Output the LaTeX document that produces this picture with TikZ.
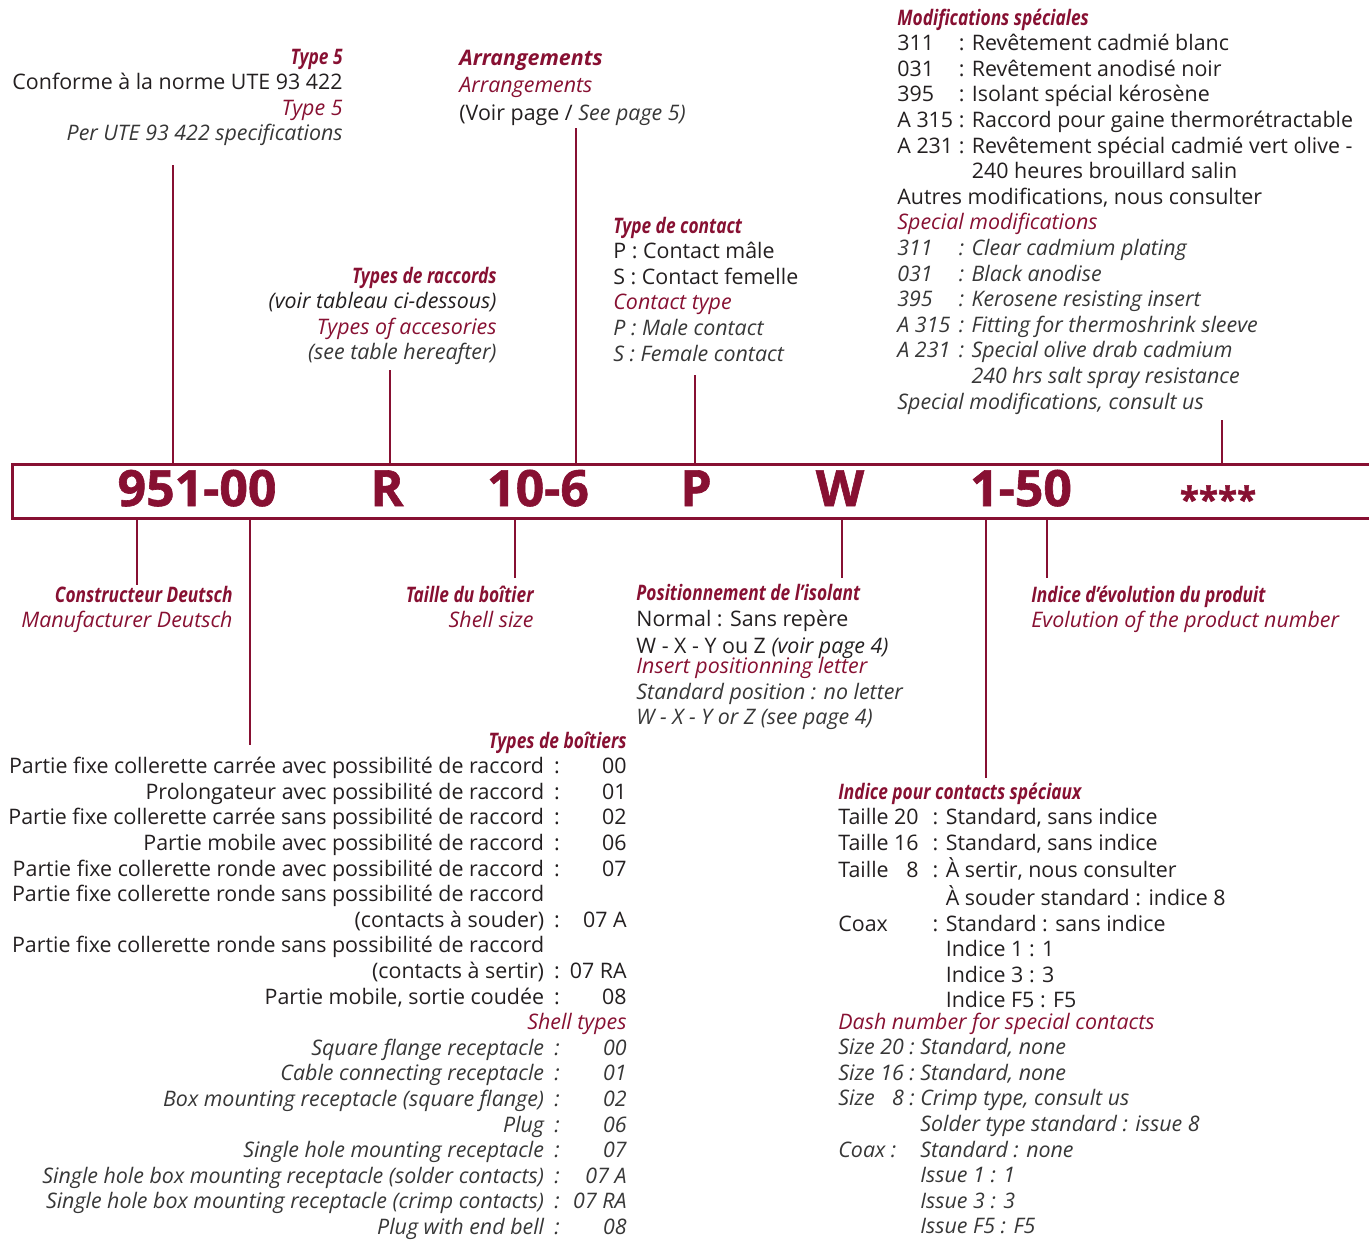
\documentclass[tikz,border=0pt]{standalone}
\usepackage{fontspec}
\setmainfont{Open Sans}
\newfontfamily\condfont{Open Sans}[FakeStretch=0.81]
\newfontfamily\codefont{Open Sans Bold}[FakeBold=1.2]
\usepackage{tikz}
\definecolor{deutschred}{RGB}{135,16,50}
\definecolor{engray}{RGB}{55,55,55}
\definecolor{txtblack}{RGB}{35,31,32}

\newcommand\hd{\condfont\bfseries\itshape\color{deutschred}}
\newcommand\hdwide{\bfseries\itshape\color{deutschred}}
\newcommand\enr{\itshape\color{deutschred}}
\newcommand\eng{\itshape\color{engray}}
\newcommand\shellrow[2]{\eng #1 & \eng : & \eng #2\\}

\tikzset{
    txt/.style={inner sep=0pt, text=txtblack, font=\fontsize{10.7}{12.8}\selectfont},
    code/.style={inner sep=0pt, anchor=base, text=deutschred, font=\fontsize{25}{28}\selectfont\codefont},
    link/.style={draw=deutschred, line width=1.2pt},
}

\begin{document}
\begin{tikzpicture}[x=0.5pt, y=-0.5pt]
            \useasboundingbox (0,0) rectangle (1369,1239);

            %code box
            \node[draw=deutschred, line width=1.4pt, inner sep=0pt, anchor=north west,
                  minimum width=700pt, minimum height=27pt] (box) at (11,463) {};
            \node[code] (cmfr) at (197,506) {951-00};
            \node[code] (cacc) at (387,506) {R};
            \node[code] (csize) at (538,506) {10-6};
            \node[code] (ccont) at (696,506) {P};
            \node[code] (cpos) at (840,506) {W};
            \node[code] (cdash) at (1021,506) {1-50};
            \node[code, font=\fontsize{17.5}{20}\selectfont\codefont] (cmod) at (1218,512) {****};

            %labels above
            \node[txt, anchor=base east] (typecinq) at (343,64) {\begin{tabular}[t]{@{}r@{}}
                \hd Type 5\\
                Conforme à la norme UTE 93 422\\
                \enr Type 5\\
                \eng Per UTE 93 422 specifications
            \end{tabular}};
            \node[txt, anchor=base west] (arrang) at (459,65) {\begin{tabular}[t]{@{}l@{}}
                \hdwide Arrangements\\[1pt]
                \enr Arrangements\\[1pt]
                (Voir page / {\eng See page 5)}
            \end{tabular}};
            \node[txt, anchor=base east] (raccords) at (497,283) {\begin{tabular}[t]{@{}r@{}}
                \hd Types de raccords\\
                \itshape (voir tableau ci-dessous)\\
                \enr Types of accesories\\
                \eng (see table hereafter)
            \end{tabular}};
            \node[txt, anchor=base west] (contact) at (613,233) {\begin{tabular}[t]{@{}l@{}}
                \hd Type de contact\\
                P : Contact mâle\\
                S : Contact femelle\\
                \enr Contact type\\
                \eng P : Male contact\\
                \eng S : Female contact
            \end{tabular}};
            \node[txt, anchor=base west] (mods) at (897,25) {\begin{tabular}[t]{@{}l@{\ }l@{}}
                \multicolumn{2}{@{}l@{}}{\hd Modifications spéciales}\\
                311 & : Revêtement cadmié blanc\\
                031 & : Revêtement anodisé noir\\
                395 & : Isolant spécial kérosène\\
                A 315 & : Raccord pour gaine thermorétractable\\
                A 231 & : Revêtement spécial cadmié vert olive -\\
                & \phantom{: }240 heures brouillard salin\\
                \multicolumn{2}{@{}l@{}}{Autres modifications, nous consulter}\\
                \multicolumn{2}{@{}l@{}}{\enr Special modifications}\\
                \eng 311 & \eng : Clear cadmium plating\\
                \eng 031 & \eng : Black anodise\\
                \eng 395 & \eng : Kerosene resisting insert\\
                \eng A 315 & \eng : Fitting for thermoshrink sleeve\\
                \eng A 231 & \eng : Special olive drab cadmium\\
                & \eng\phantom{: }240 hrs salt spray resistance\\
                \multicolumn{2}{@{}l@{}}{\eng Special modifications, consult us}
            \end{tabular}};

            %labels below
            \node[txt, anchor=base east] (constr) at (233,602) {\begin{tabular}[t]{@{}r@{}}
                \hd Constructeur Deutsch\\
                \enr Manufacturer Deutsch
            \end{tabular}};
            \node[txt, anchor=base east] (taille) at (534,602) {\begin{tabular}[t]{@{}r@{}}
                \hd Taille du boîtier\\
                \enr Shell size
            \end{tabular}};
            \node[txt, anchor=base west] (positfr) at (636,600) {\begin{tabular}[t]{@{}l@{}}
                \hd Positionnement de l’isolant\\[0.6pt]
                Normal : Sans repère\\[0.6pt]
                W - X - Y ou Z {\itshape (voir page 4)}
            \end{tabular}};
            \node[txt, anchor=base west] (positen) at (636,673) {\begin{tabular}[t]{@{}l@{}}
                \enr Insert positionning letter\\[0.3pt]
                \eng Standard position : no letter\\
                \eng W - X - Y or Z (see page 4)
            \end{tabular}};
            \node[txt, anchor=base west] (evol) at (1031,602) {\begin{tabular}[t]{@{}l@{}}
                \hd Indice d’évolution du produit\\
                \enr Evolution of the product number
            \end{tabular}};

            %shell types
            \node[txt, anchor=base east] (boitiers) at (627,748) {\begin{tabular}[t]{@{}r@{\hspace{5pt}}c@{\hspace{5pt}}r@{}}
                \multicolumn{3}{@{}r@{}}{\hd Types de boîtiers\hspace{-3pt}}\\
                Partie fixe collerette carrée avec possibilité de raccord & : & 00\\
                Prolongateur avec possibilité de raccord & : & 01\\
                Partie fixe collerette carrée sans possibilité de raccord & : & 02\\
                Partie mobile avec possibilité de raccord & : & 06\\
                Partie fixe collerette ronde avec possibilité de raccord & : & 07\\
                Partie fixe collerette ronde sans possibilité de raccord & & \\
                (contacts à souder) & : & 07 A\\
                Partie fixe collerette ronde sans possibilité de raccord & & \\
                (contacts à sertir) & : & 07 RA\\
                Partie mobile, sortie coudée & : & 08\\
                \multicolumn{3}{@{}r@{}}{\enr Shell types\hspace{-3pt}}\\
                \shellrow{Square flange receptacle}{00}
                \shellrow{Cable connecting receptacle}{01}
                \shellrow{Box mounting receptacle (square flange)}{02}
                \shellrow{Plug}{06}
                \shellrow{Single hole mounting receptacle}{07}
                \shellrow{Single hole box mounting receptacle (solder contacts)}{07 A}
                \shellrow{Single hole box mounting receptacle (crimp contacts)}{07 RA}
                \eng Plug with end bell & \eng : & \eng 08
            \end{tabular}};

            %special contacts
            \node[txt, anchor=base west] (indfr) at (838,799) {\begin{tabular}[t]{@{}l@{\hspace{7pt}}l@{}}
                \multicolumn{2}{@{}l@{}}{\hd Indice pour contacts spéciaux}\\
                Taille 20 & : Standard, sans indice\\
                Taille 16 & : Standard, sans indice\\
                Taille \phantom{2}8 & : À sertir, nous consulter\\
                & \phantom{: }À souder standard : indice 8\\
                Coax & : Standard : sans indice\\
                & \phantom{: }Indice 1 : 1\\
                & \phantom{: }Indice 3 : 3\\
                & \phantom{: }Indice F5 : F5
            \end{tabular}};
            \node[txt, anchor=base west] (inden) at (838,1029) {\begin{tabular}[t]{@{}l@{\ }l@{}}
                \multicolumn{2}{@{}l@{}}{\enr Dash number for special contacts}\\
                \eng Size 20 : & \eng Standard, none\\
                \eng Size 16 : & \eng Standard, none\\
                \eng Size \phantom{2}8 : & \eng Crimp type, consult us\\
                & \eng Solder type standard : issue 8\\
                \eng Coax : & \eng Standard : none\\
                & \eng Issue 1 : 1\\
                & \eng Issue 3 : 3\\
                & \eng Issue F5 : F5
            \end{tabular}};

            %connectors
            \coordinate (typeend) at (173,165);
            \coordinate (raccend) at (390,370);
            \coordinate (arrend) at (576,128);
            \coordinate (contend) at (695,375);
            \coordinate (modend) at (1222,420);
            \coordinate (mfrend) at (137,585);
            \coordinate (boitend) at (250,745);
            \coordinate (sizeend) at (515,578);
            \coordinate (posend) at (842,578);
            \coordinate (indend) at (986,778);
            \coordinate (evolend) at (1047,578);
            \draw[link] (typeend) -- (typeend |- box.north);
            \draw[link] (raccend) -- (raccend |- box.north);
            \draw[link] (arrend) -- (arrend |- box.north);
            \draw[link] (contend) -- (contend |- box.north);
            \draw[link] (modend) -- (modend |- box.north);
            \draw[link] (box.south -| mfrend) -- (mfrend);
            \draw[link] (box.south -| boitend) -- (boitend);
            \draw[link] (box.south -| sizeend) -- (sizeend);
            \draw[link] (box.south -| posend) -- (posend);
            \draw[link] (box.south -| indend) -- (indend);
            \draw[link] (box.south -| evolend) -- (evolend);
        \end{tikzpicture}
\end{document}
